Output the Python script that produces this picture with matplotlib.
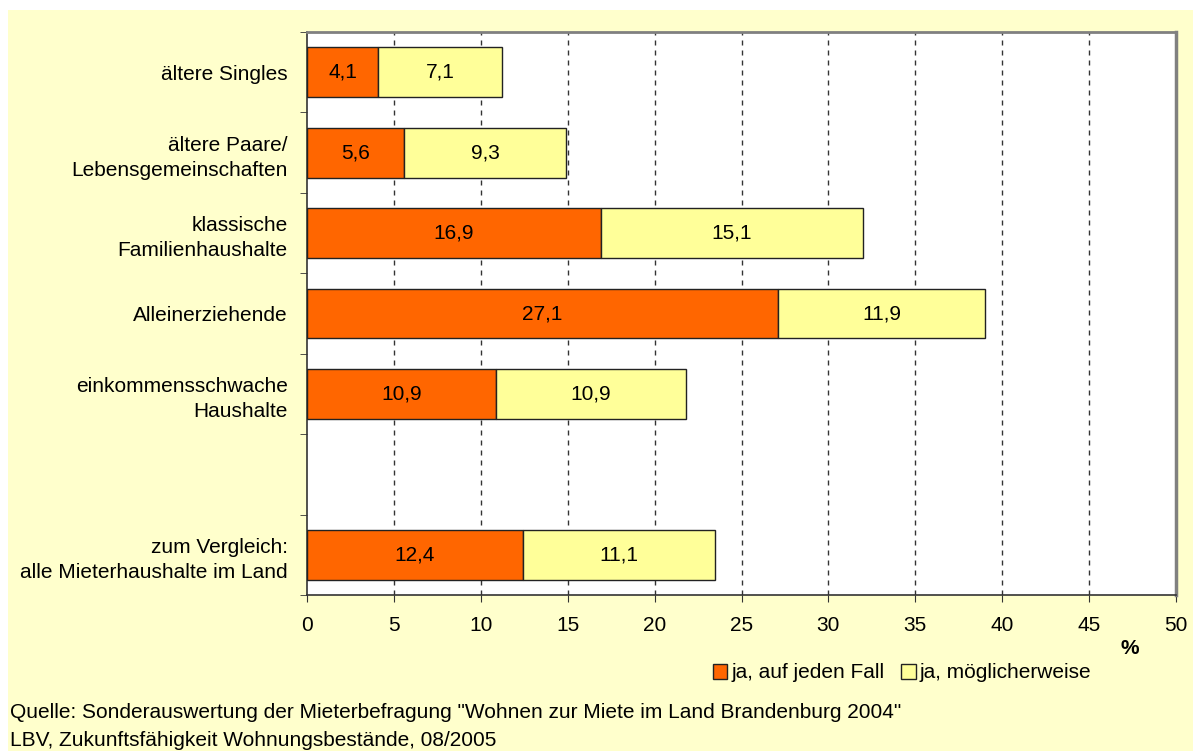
import matplotlib
matplotlib.use("Agg")
import matplotlib.pyplot as plt
from matplotlib.patches import Rectangle, Patch

plt.rcParams['font.family'] = ['Liberation Sans', 'DejaVu Sans']

categories = ["ältere Singles", "ältere Paare/\nLebensgemeinschaften",
              "klassische\nFamilienhaushalte", "Alleinerziehende",
              "einkommensschwache\nHaushalte", "",
              "zum Vergleich:\nalle Mieterhaushalte im Land"]
ja_sicher = [4.1, 5.6, 16.9, 27.1, 10.9, None, 12.4]
ja_moeglich = [7.1, 9.3, 15.1, 11.9, 10.9, None, 11.1]
series_names = ["ja, auf jeden Fall", "ja, möglicherweise"]
xticks = [0, 5, 10, 15, 20, 25, 30, 35, 40, 45, 50]

c1 = "#FF6600"
c2 = "#FFFF99"
bg = "#FFFFCC"
FS = 15

W, H = 1198, 751
fig = plt.figure(figsize=(W / 100, H / 100), dpi=100)
fig.patch.set_facecolor("white")
fig.patches.append(Rectangle((8 / W, 0), (1193 - 8) / W, (751 - 10) / H,
                             transform=fig.transFigure, facecolor=bg,
                             edgecolor="none", zorder=-5))

left, right, top, bottom = 307, 1176, 32, 595
ax = fig.add_axes([left / W, 1 - bottom / H, (right - left) / W, (bottom - top) / H])
ax.set_facecolor("white")

n = len(categories)
ys = list(range(n))
h = 0.62
for i in ys:
    a = ja_sicher[i]
    b = ja_moeglich[i]
    if a is None:
        continue
    ax.barh(i, a, height=h, color=c1, edgecolor="#222222", linewidth=1, zorder=3)
    ax.barh(i, b, left=a, height=h, color=c2, edgecolor="#222222", linewidth=1, zorder=3)
    ax.text(a / 2, i, f"{a:.1f}".replace(".", ","), ha="center", va="center",
            fontsize=FS, zorder=4)
    ax.text(a + b / 2, i, f"{b:.1f}".replace(".", ","), ha="center", va="center",
            fontsize=FS, zorder=4)

ax.set_ylim(n - 0.5, -0.5)
ax.set_xlim(0, 50)
ax.set_xticks(xticks)
ax.set_xticklabels([str(x) for x in xticks], fontsize=FS)
ax.set_yticks(ys)
ax.set_yticklabels(categories, fontsize=FS, linespacing=1.4)
ax.tick_params(axis="y", length=0, pad=14)
ax.set_yticks([y - 0.5 for y in range(n + 1)], minor=True)
ax.tick_params(axis="y", which="minor", length=5, direction="out", color="#333333")
ax.tick_params(axis="x", length=5, direction="out", color="#333333", pad=10)
for x in xticks[1:-1]:
    ax.axvline(x, color="#333333", linestyle=(0, (3.6, 3.6)), linewidth=1, zorder=1)

ax.spines["left"].set_color("#333333")
ax.spines["bottom"].set_color("#333333")
ax.spines["top"].set_color("#808080")
ax.spines["right"].set_color("#808080")
ax.spines["top"].set_linewidth(2)
ax.spines["right"].set_linewidth(2.5)
ax.spines["left"].set_linewidth(1.2)
ax.spines["bottom"].set_linewidth(1.2)

fig.text(1130 / W, 1 - 648 / H, "%", fontsize=FS, fontweight="bold",
         ha="center", va="center")

handles = [Patch(facecolor=c1, edgecolor="#222222"), Patch(facecolor=c2, edgecolor="#222222")]
fig.legend(handles, series_names, loc="center", bbox_to_anchor=(902 / W, 1 - 673 / H),
           ncol=2, frameon=False, fontsize=FS, handlelength=0.7, handleheight=0.7,
           handletextpad=0.2, columnspacing=0.8)

fig.text(10 / W, 1 - 713 / H, 'Quelle: Sonderauswertung der Mieterbefragung "Wohnen zur Miete im Land Brandenburg 2004"',
         fontsize=FS, ha="left", va="center")
fig.text(10 / W, 1 - 740 / H, "LBV, Zukunftsfähigkeit Wohnungsbestände, 08/2005",
         fontsize=FS, ha="left", va="center")

fig.savefig("out.png", dpi=100, facecolor=fig.get_facecolor())
